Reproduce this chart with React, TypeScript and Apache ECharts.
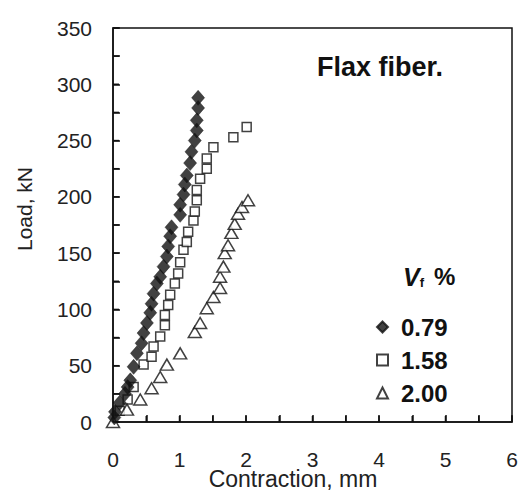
import React, { useEffect, useRef } from "react";
import * as echarts from "echarts";

const seriesNames = ["0.79", "1.58", "2.00"];

const vf079: [number, number][] = [
  [0.02, 4], [0.03, 9], [0.1, 17], [0.18, 25], [0.22, 31], [0.26, 37], [0.31, 49], [0.36, 61], [0.43, 70],
  [0.46, 79], [0.51, 88], [0.56, 97], [0.58, 105], [0.61, 114], [0.66, 123],
  [0.71, 129], [0.76, 138], [0.81, 147], [0.83, 156], [0.86, 165], [0.88, 173],
  [1.01, 184], [1.01, 193], [1.06, 202], [1.08, 211], [1.11, 219], [1.16, 230],
  [1.18, 240], [1.23, 250], [1.26, 259], [1.26, 268], [1.28, 279], [1.28, 288],
];

const vf158: [number, number][] = [
  [0.1, 10], [0.22, 20], [0.31, 31], [0.46, 51], [0.58, 58], [0.61, 67], [0.71, 76],
  [0.78, 86], [0.78, 95], [0.83, 104], [0.86, 113], [0.93, 123], [0.98, 132],
  [1.01, 142], [1.06, 153], [1.11, 160], [1.13, 169], [1.21, 179], [1.23, 187],
  [1.26, 197], [1.26, 206], [1.31, 216], [1.41, 225], [1.41, 234], [1.51, 244],
  [1.81, 253], [2.01, 262],
];

const vf200: [number, number][] = [
  [0, 0], [0.21, 11], [0.41, 20], [0.58, 30], [0.71, 40], [0.81, 51], [1.01, 61],
  [1.23, 80], [1.31, 88], [1.41, 101], [1.51, 111], [1.61, 119], [1.61, 129],
  [1.66, 138], [1.68, 150], [1.73, 157], [1.78, 168], [1.83, 176], [1.88, 185],
  [1.94, 191], [2.03, 197],
];

// tick positions (minor + major) on each axis
const xTickValues = [0, 0.5, 1, 1.5, 2, 2.5, 3, 3.5, 4, 4.5, 5, 5.5, 6];
const yTickValues = [0, 25, 50, 75, 100, 125, 150, 175, 200, 225, 250, 275, 300, 325, 350];

const FONT = "Liberation Sans, Arial, sans-serif";

export default function App() {
  const ref = useRef<HTMLDivElement>(null);
  useEffect(() => {
    if (!ref.current) return;
    const chart = echarts.init(ref.current, null, { renderer: "svg" });
    const tickData = [
      ...xTickValues.map((v) => [0, v]),
      ...yTickValues.map((v) => [1, v]),
    ];
    chart.setOption({
      animation: false,
      grid: {
        left: 113, right: 8, top: 28, bottom: 69,
        containLabel: false, outerBoundsMode: "none",
        show: true, borderColor: "#111", borderWidth: 1.5,
      },
      xAxis: {
        type: "value", min: 0, max: 6, interval: 1,
        axisLine: { show: true, onZero: false, lineStyle: { color: "#111", width: 1.5 } },
        axisTick: { show: true, inside: true, length: 7, lineStyle: { color: "#111", width: 1.5 } },
        minorTick: { show: true, splitNumber: 2, length: 7, lineStyle: { color: "#111", width: 1.5 } },
        axisLabel: { margin: 28, fontFamily: FONT, fontSize: 21, lineHeight: 18, color: "#222" },
        splitLine: { show: false },
        minorSplitLine: { show: false },
      },
      yAxis: {
        type: "value", min: 0, max: 350, interval: 50,
        axisLine: { show: true, onZero: false, lineStyle: { color: "#111", width: 1.5 } },
        axisTick: { show: true, inside: true, length: 7, lineStyle: { color: "#111", width: 1.5 } },
        minorTick: { show: true, splitNumber: 2, length: 7, lineStyle: { color: "#111", width: 1.5 } },
        axisLabel: { margin: 21, fontFamily: FONT, fontSize: 21, color: "#222" },
        splitLine: { show: false },
        minorSplitLine: { show: false },
      },
      legend: {
        orient: "vertical", left: 371, top: 310, itemGap: 9, itemWidth: 11, itemHeight: 11,
        textStyle: {
          fontFamily: FONT, fontSize: 24, lineHeight: 24, fontWeight: "bold", color: "#111",
          padding: [0, 0, 0, 8],
        },
        data: seriesNames,
      },
      graphic: [
        {
          type: "text", x: 293, y: 479,
          style: {
            text: "Contraction, mm", fontFamily: FONT, fontSize: 23, lineHeight: 20, fill: "#222",
            align: "center", verticalAlign: "middle",
          },
        },
        {
          type: "text", x: 24, y: 209, rotation: Math.PI / 2,
          style: {
            text: "Load, kN", fontFamily: FONT, fontSize: 21, fill: "#222",
            align: "center", verticalAlign: "middle",
          },
        },
        {
          type: "text", left: 317, top: 53,
          style: { text: "Flax fiber.", fontFamily: FONT, fontSize: 27, fontWeight: "bold", fill: "#111" },
        },
        {
          type: "text", left: 403, top: 264,
          style: {
            text: "{v|V}{s|f}{p|%}",
            rich: {
              v: { fontFamily: FONT, fontSize: 25, fontStyle: "italic", fontWeight: "bold", fill: "#111" },
              s: { fontFamily: FONT, fontSize: 13, fontWeight: "bold", fill: "#111", verticalAlign: "bottom", padding: [12, 0, 0, 0] },
              p: { fontFamily: FONT, fontSize: 24, fontWeight: "bold", fill: "#111", padding: [0, 0, 0, 10] },
            },
          },
        },
      ],
      series: [
        {
          type: "custom", silent: true, data: tickData, z: 5, clip: false,
          renderItem: (params: any, api: any) => {
            const kind = api.value(0);
            const v = api.value(1);
            if (kind === 0) {
              const p = api.coord([v, 0]);
              return {
                type: "line",
                shape: { x1: p[0], y1: p[1], x2: p[0], y2: p[1] - 6 },
                style: { stroke: "#111", lineWidth: 1.5 },
              };
            }
            const p = api.coord([0, v]);
            return {
              type: "line",
              shape: { x1: p[0], y1: p[1], x2: p[0] + 6, y2: p[1] },
              style: { stroke: "#111", lineWidth: 1.5 },
            };
          },
        },
        {
          name: seriesNames[0], type: "scatter", data: vf079, symbol: "diamond", symbolSize: [13, 15],
          itemStyle: { color: "#111", borderColor: "#111", borderWidth: 0.5 }, z: 3,
        },
        {
          name: seriesNames[1], type: "scatter", data: vf158, symbol: "rect", symbolSize: 9,
          itemStyle: { color: "#fff", borderColor: "#111", borderWidth: 1.5 }, z: 2,
        },
        {
          name: seriesNames[2], type: "scatter", data: vf200, symbol: "triangle", symbolSize: [13, 11],
          itemStyle: { color: "#fff", borderColor: "#111", borderWidth: 1.5 }, z: 2,
        },
      ],
    });
    return () => chart.dispose();
  }, []);
  return <div ref={ref} style={{ width: 520, height: 491, position: "absolute", left: 0, top: 0 }} />;
}
